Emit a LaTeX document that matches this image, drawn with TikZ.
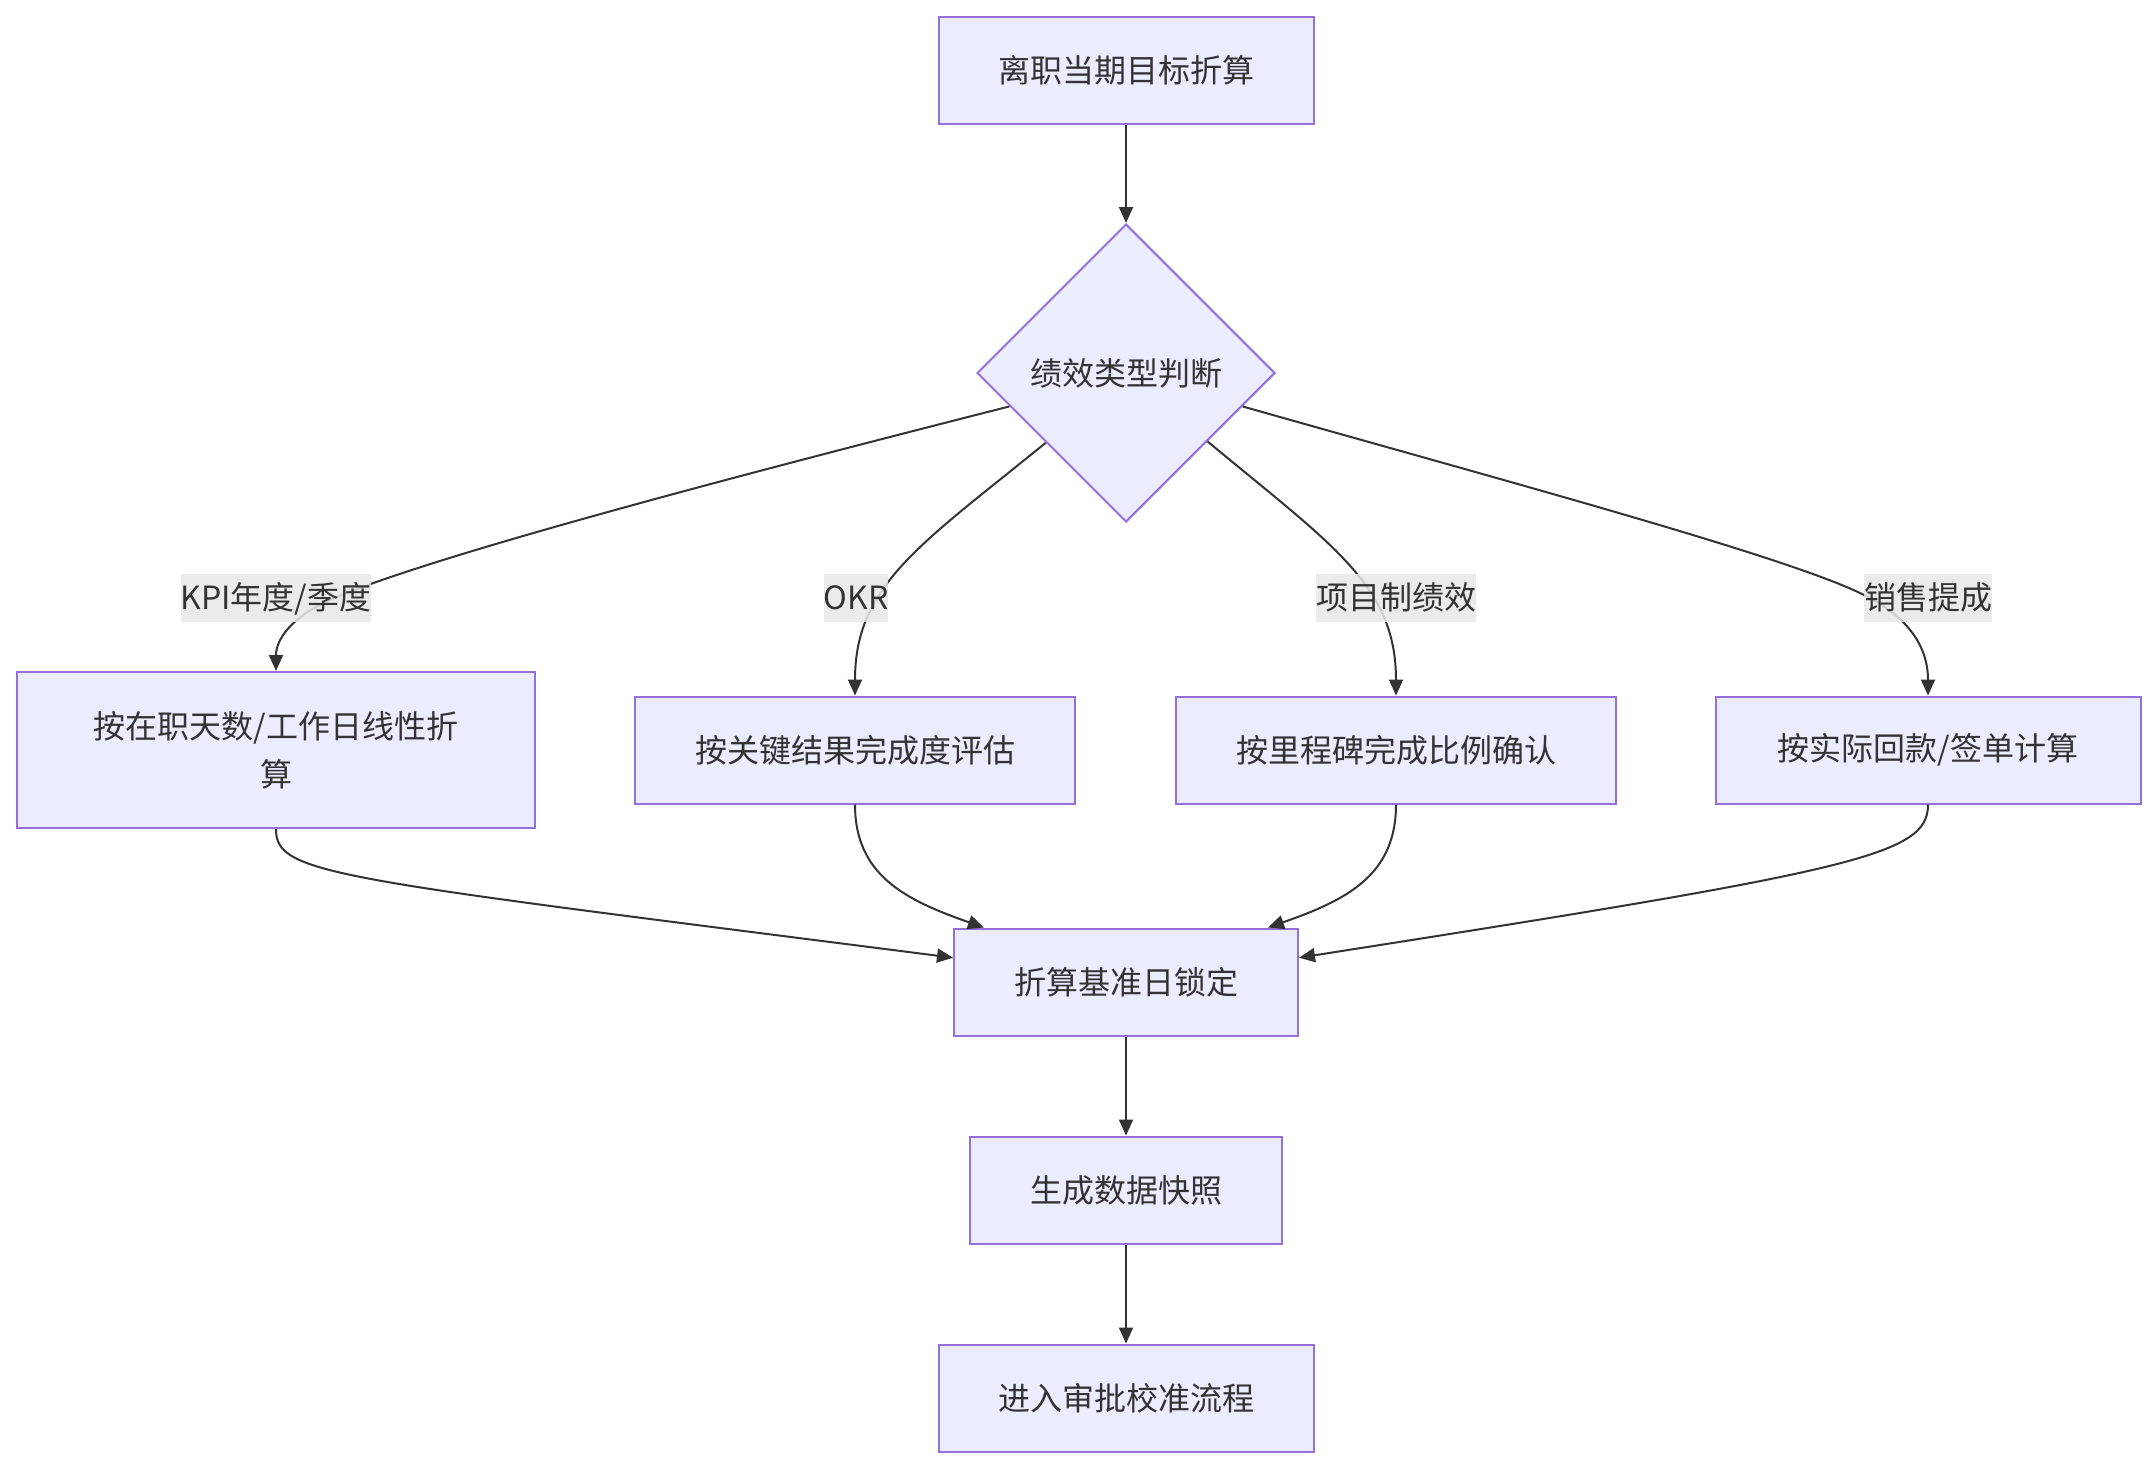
\documentclass[tikz,border=0pt]{standalone}
\usepackage{fontspec}
\setmainfont{Noto Sans CJK SC}
\usetikzlibrary{shapes.geometric,arrows.meta}
\definecolor{nfill}{HTML}{ECECFF}
\definecolor{nline}{HTML}{9370DB}
\definecolor{ink}{HTML}{333333}
\definecolor{lblbg}{HTML}{E8E8E8}
\begin{document}
\begin{tikzpicture}[x=1pt,y=-1pt,
  box/.style={draw=nline,fill=nfill,line width=2pt,minimum height=107pt,inner sep=0pt,text=ink,font=\fontsize{32}{48}\selectfont,align=center},
  dec/.style={diamond,draw=nline,fill=nfill,line width=2pt,minimum width=298pt,minimum height=298pt,inner sep=0pt,text=ink,font=\fontsize{32}{48}\selectfont},
  lbl/.style={fill=lblbg,fill opacity=0.85,text opacity=1,text=ink,inner xsep=0pt,inner ysep=7pt,text height=28pt,text depth=6pt,font=\fontsize{32}{40}\selectfont},
  flow/.style={draw=ink,line width=2pt,-{Triangle[length=16pt,width=14pt]}}]
\fill[white] (0,0) rectangle (2156,1468);
\useasboundingbox (0,0) rectangle (2156,1468);
\node[box,minimum width=375pt] (top) at (1126,70) {离职当期目标折算};
\node[dec] (d) at (1126,373) {绩效类型判断};
\node[box,minimum width=518pt,minimum height=156pt] (b1) at (276,750) {按在职天数/工作日线性折\\算};
\node[box,minimum width=440pt] (b2) at (855,750) {按关键结果完成度评估};
\node[box,minimum width=440pt] (b3) at (1396,750) {按里程碑完成比例确认};
\node[box,minimum width=425pt] (b4) at (1928,750) {按实际回款/签单计算};
\node[box,minimum width=344pt] (lock) at (1126,982) {折算基准日锁定};
\node[box,minimum width=312pt] (snap) at (1126,1190) {生成数据快照};
\node[box,minimum width=375pt] (fin) at (1126,1398) {进入审批校准流程};
\draw[flow] (top) -- (d);
\draw[flow] (d.196) .. controls (700,485) and (420,560) .. (330,600) .. controls (290,618) and (276,640) .. (b1.north);
\draw[flow] (d.221) .. controls (920,545) and (855,585) .. (b2.north);
\draw[flow] (d.320) .. controls (1332,545) and (1396,585) .. (b3.north);
\draw[flow] (d.344) .. controls (1520,485) and (1780,555) .. (1860,593) .. controls (1900,612) and (1928,640) .. (b4.north);
\draw[flow] (b1.south) .. controls (276,875) and (330,878) .. (lock.172);
\draw[flow] (b2.south) .. controls (855,875) and (905,900) .. (lock.159);
\draw[flow] (b3.south) .. controls (1396,875) and (1347,900) .. (lock.21);
\draw[flow] (b4.south) .. controls (1928,855) and (1860,870) .. (lock.8);
\draw[flow] (lock) -- (snap);
\draw[flow] (snap) -- (fin);
\node[lbl] (l1) at (276,598) {KPI年度/季度};
\node[lbl] (l2) at (856,598) {OKR};
\node[lbl] (l3) at (1396,598) {项目制绩效};
\node[lbl] (l4) at (1928,598) {销售提成};
\end{tikzpicture}
\end{document}
